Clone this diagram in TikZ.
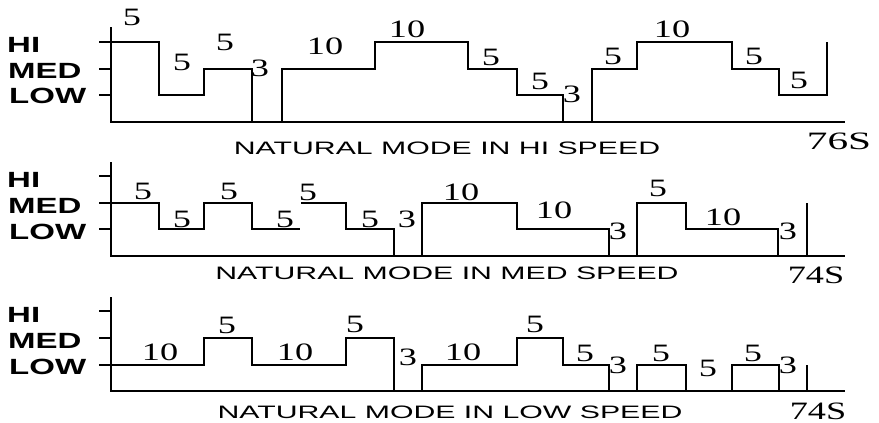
\documentclass[tikz,border=0pt]{standalone}
\usepackage{fontspec}
\setmainfont{Liberation Serif}
\newfontfamily\lblfont{Liberation Sans}
\newcommand\nx[1]{\scalebox{1.45}[1]{#1}}
\newcommand\lx[1]{\scalebox{1.5}[1]{#1}}
\newcommand\cx[1]{\scalebox{1.68}[1]{#1}}
\tikzset{
  wave/.style={line width=1.5pt, line join=miter},
  axisline/.style={line width=1.5pt},
  num/.style={font=\fontsize{25}{25}\selectfont, inner sep=0pt},
  lvl/.style={font=\lblfont\bfseries\fontsize{22}{22}\selectfont, inner sep=0pt, anchor=west},
  capt/.style={font=\lblfont\fontsize{18}{18}\selectfont, inner sep=0pt},
}
\begin{document}
\begin{tikzpicture}[x=1pt,y=-1pt]
\useasboundingbox[fill=white] (0,0) rectangle (879,423);

% ---------- Panel 1: HI speed ----------
\draw[axisline] (111,27) -- (111,122) -- (845,122);
\foreach \yy in {42,69,95} \draw[axisline] (99,\yy) -- (111,\yy);
\node[lvl] (h1) at (7,45) {\lx{HI}};
\node[lvl] (m1) at (8,71) {\lx{MED}};
\node[lvl] (l1) at (9,96) {\lx{LOW}};
\draw[wave] (111,42) -| (159,95) -| (204,69) -| (252,122);
\draw[wave] (282,122) -- (282,69) -| (375,42) -| (468,69) -| (517,95) -| (563,122);
\draw[wave] (592,122) -- (592,69) -| (637,42) -| (732,69) -| (779,95) -| (827,42);
\node[num] (a1) at (132,17) {\nx{5}};
\node[num] (a2) at (182,62) {\nx{5}};
\node[num] (a3) at (225,42) {\nx{5}};
\node[num] (a4) at (260,68) {\nx{3}};
\node[num] (a5) at (325,46) {\nx{10}};
\node[num] (a6) at (407,29) {\nx{10}};
\node[num] (a7) at (491,57) {\nx{5}};
\node[num] (a8) at (540,81) {\nx{5}};
\node[num] (a9) at (572,94) {\nx{3}};
\node[num] (a10) at (613,56) {\nx{5}};
\node[num] (a11) at (672,29) {\nx{10}};
\node[num] (a12) at (754,56) {\nx{5}};
\node[num] (a13) at (799,80) {\nx{5}};
\node[num] (t1) at (839,141) {\scalebox{1.65}[1]{76S}};
\node[capt] (c1) at (447,148) {\cx{NATURAL MODE IN HI SPEED}};

% ---------- Panel 2: MED speed ----------
\draw[axisline] (111,162) -- (111,256) -- (845,256);
\foreach \yy in {176,203,229} \draw[axisline] (99,\yy) -- (111,\yy);
\node[lvl] (h2) at (7,180) {\lx{HI}};
\node[lvl] (m2) at (8,206) {\lx{MED}};
\node[lvl] (l2) at (9,232) {\lx{LOW}};
\draw[wave] (111,203) -| (159,229) -| (204,203) -| (252,229) -- (300,229);
\draw[wave] (301,203) -| (346,229) -| (394,256);
\draw[wave] (422,256) -- (422,203) -| (517,229) -| (609,256);
\draw[wave] (637,256) -- (637,203) -| (686,229) -| (778,256);
\draw[wave] (807,256) -- (807,203);
\node[num] (b1) at (143,191) {\nx{5}};
\node[num] (b2) at (182,219) {\nx{5}};
\node[num] (b3) at (229,191) {\nx{5}};
\node[num] (b4) at (285,219) {\nx{5}};
\node[num] (b5) at (308,192) {\nx{5}};
\node[num] (b6) at (370,219) {\nx{5}};
\node[num] (b7) at (407,219) {\nx{3}};
\node[num] (b8) at (461,192) {\nx{10}};
\node[num] (b9) at (554,210) {\nx{10}};
\node[num] (b10) at (618,231) {\nx{3}};
\node[num] (b11) at (658,188) {\nx{5}};
\node[num] (b12) at (723,217) {\nx{10}};
\node[num] (b13) at (788,231) {\nx{3}};
\node[num] (t2) at (816,275) {\nx{74S}};
\node[capt] (c2) at (447,273) {\cx{NATURAL MODE IN MED SPEED}};

% ---------- Panel 3: LOW speed ----------
\draw[axisline] (111,297) -- (111,391) -- (845,391);
\foreach \yy in {311,338,365} \draw[axisline] (99,\yy) -- (111,\yy);
\node[lvl] (h3) at (7,315) {\lx{HI}};
\node[lvl] (m3) at (8,341) {\lx{MED}};
\node[lvl] (l3) at (9,367) {\lx{LOW}};
\draw[wave] (111,365) -| (204,338) -| (252,365) -| (346,338) -| (394,391);
\draw[wave] (422,391) -- (422,365) -| (517,338) -| (563,365) -| (609,391);
\draw[wave] (637,391) -- (637,365) -| (686,391);
\draw[wave] (732,391) -- (732,365) -| (779,391);
\draw[wave] (807,391) -- (807,365);
\node[num] (d1) at (160,352) {\nx{10}};
\node[num] (d2) at (227,325) {\nx{5}};
\node[num] (d3) at (295,352) {\nx{10}};
\node[num] (d4) at (355,324) {\nx{5}};
\node[num] (d5) at (408,357) {\nx{3}};
\node[num] (d6) at (463,352) {\nx{10}};
\node[num] (d7) at (535,324) {\nx{5}};
\node[num] (d8) at (585,353) {\nx{5}};
\node[num] (d9) at (618,365) {\nx{3}};
\node[num] (d10) at (661,353) {\nx{5}};
\node[num] (d11) at (708,368) {\nx{5}};
\node[num] (d12) at (753,353) {\nx{5}};
\node[num] (d13) at (788,365) {\nx{3}};
\node[num] (t3) at (818,411) {\nx{74S}};
\node[capt] (c3) at (450,412) {\cx{NATURAL MODE IN LOW SPEED}};
\end{tikzpicture}
\end{document}
